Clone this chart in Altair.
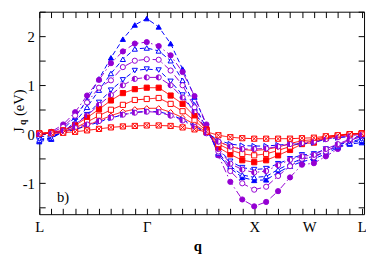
import altair as alt
import pandas as pd

# ---------------- data ----------------
q_index = list(range(28))
sym_positions = [0, 9, 18, 22.6, 27]
sym_labels = ["L", "Γ", "X", "W", "L"]
y_ticks = [-1.5, -1.0, -0.5, 0.0, 0.5, 1.0, 1.5, 2.0, 2.5]

series_names = ["A", "B", "C", "D", "E", "F", "G", "H", "I", "J", "K", "L"]

A_vals = [-0.15, -0.10, 0.10, 0.35, 0.70, 1.13, 1.56, 1.94, 2.23, 2.36, 2.19, 1.85, 1.33, 0.76, 0.18,
          -0.42, -0.69, -0.88, -0.94, -0.93, -0.78, -0.65, -0.56, -0.50, -0.40, -0.27, -0.20, -0.17]
B_vals = [0.00, 0.05, 0.20, 0.45, 0.79, 1.11, 1.45, 1.69, 1.85, 1.88, 1.80, 1.61, 1.27, 0.78, 0.20,
          -0.43, -0.97, -1.33, -1.47, -1.38, -1.16, -0.88, -0.62, -0.59, -0.45, -0.30, -0.15, 0.00]
C_vals = [-0.12, -0.08, 0.05, 0.25, 0.55, 0.90, 1.24, 1.53, 1.74, 1.76, 1.70, 1.50, 1.10, 0.60, 0.12,
          -0.38, -0.65, -0.83, -0.88, -0.86, -0.72, -0.60, -0.50, -0.45, -0.35, -0.25, -0.18, -0.12]
D_vals = [0.00, 0.03, 0.15, 0.38, 0.65, 0.95, 1.10, 1.37, 1.50, 1.53, 1.52, 1.30, 1.00, 0.55, 0.12,
          -0.35, -0.75, -1.00, -1.13, -1.07, -0.85, -0.65, -0.50, -0.47, -0.35, -0.22, -0.12, -0.05]
E_vals = [-0.10, -0.07, 0.05, 0.20, 0.40, 0.65, 0.90, 1.11, 1.30, 1.33, 1.31, 1.08, 0.80, 0.45, 0.08,
          -0.30, -0.55, -0.68, -0.72, -0.70, -0.60, -0.50, -0.42, -0.40, -0.30, -0.22, -0.15, -0.10]
F_vals = [0.00, 0.02, 0.08, 0.20, 0.38, 0.60, 0.80, 1.00, 1.13, 1.16, 1.16, 1.00, 0.75, 0.45, 0.10,
          -0.30, -0.60, -0.72, -0.78, -0.75, -0.63, -0.52, -0.45, -0.42, -0.30, -0.20, -0.10, -0.03]
G_vals = [0.02, 0.04, 0.08, 0.18, 0.34, 0.51, 0.69, 0.84, 0.92, 0.95, 0.95, 0.79, 0.62, 0.37, 0.10,
          -0.27, -0.41, -0.53, -0.57, -0.53, -0.43, -0.32, -0.20, -0.17, -0.08, -0.04, 0.00, 0.02]
H_vals = [0.02, 0.03, 0.06, 0.13, 0.25, 0.38, 0.50, 0.60, 0.70, 0.72, 0.74, 0.62, 0.47, 0.28, 0.07,
          -0.20, -0.32, -0.40, -0.43, -0.40, -0.33, -0.25, -0.17, -0.14, -0.07, -0.03, 0.00, 0.02]
I_vals = [0.01, 0.02, 0.05, 0.10, 0.18, 0.28, 0.38, 0.46, 0.51, 0.53, 0.53, 0.45, 0.34, 0.20, 0.05,
          -0.15, -0.25, -0.31, -0.33, -0.31, -0.26, -0.19, -0.13, -0.11, -0.05, -0.02, 0.01, 0.02]
J_vals = [-0.05, -0.03, 0.03, 0.10, 0.17, 0.25, 0.33, 0.40, 0.45, 0.47, 0.46, 0.40, 0.30, 0.17, 0.03,
          -0.12, -0.20, -0.23, -0.24, -0.24, -0.22, -0.20, -0.20, -0.17, -0.10, -0.07, -0.05, -0.05]
K_vals = [0.00, 0.02, 0.06, 0.13, 0.20, 0.27, 0.34, 0.40, 0.44, 0.46, 0.45, 0.38, 0.28, 0.15, 0.02,
          -0.15, -0.25, -0.30, -0.30, -0.29, -0.25, -0.20, -0.18, -0.15, -0.10, -0.06, -0.03, 0.00]
L_vals = [0.01, 0.02, 0.03, 0.05, 0.08, 0.11, 0.14, 0.16, 0.17, 0.18, 0.18, 0.17, 0.14, 0.10, 0.05,
          -0.02, -0.06, -0.08, -0.09, -0.09, -0.09, -0.09, -0.08, -0.07, -0.04, -0.02, 0.00, 0.01]

all_vals = [A_vals, B_vals, C_vals, D_vals, E_vals, F_vals, G_vals, H_vals, I_vals, J_vals, K_vals, L_vals]

# ---------------- styles ----------------
BLUE = "#0000ff"
PURPLE = "#9400d3"
RED = "#ff0000"
WHITE = "#ffffff"
BOX_X = "M-1,-1L1,-1L1,1L-1,1Z M-1,-1L1,1 M-1,1L1,-1"
HALF = "M0,-1A1,1 0 0,0 0,1Z"

line_colors = [BLUE, PURPLE, BLUE, PURPLE, BLUE, PURPLE, RED, RED, RED, BLUE, PURPLE, RED]
dash_blue = [5, 3]
dash_purple = [7, 3, 1.5, 3]
solid = [1, 0]
dashes = [dash_blue, dash_purple, dash_blue, dash_purple, dash_blue, dash_purple,
          solid, solid, solid, dash_blue, dash_purple, solid]
shapes = ["triangle-up", "circle", "triangle-up", "circle", "triangle-down", "circle",
          "square", "square", "diamond", "triangle-right", "circle", BOX_X]
fills = [BLUE, PURPLE, WHITE, WHITE, WHITE, WHITE, RED, WHITE, WHITE, WHITE, WHITE, WHITE]

rows = []
for name, vals in zip(series_names, all_vals):
    for i, v in zip(q_index, vals):
        rows.append({"s": name, "i": i, "v": v})
df = pd.DataFrame(rows)

xscale = alt.Scale(domain=[0, 27.2], nice=False, zero=False)
yscale = alt.Scale(domain=[-1.63, 2.5], nice=False, zero=False)

FONT = "Liberation Serif"

axis_bottom_ticks = alt.Axis(orient="bottom", values=q_index, tickSize=6, offset=-6, labels=False,
                             domain=False, grid=False, title=None, tickColor="black", tickWidth=1)
axis_top_ticks = alt.Axis(orient="top", values=q_index, tickSize=6, offset=-6, labels=False,
                          domain=False, grid=False, title=None, tickColor="black", tickWidth=1)
axis_left = alt.Axis(orient="left", values=y_ticks, tickSize=6, offset=-6, domain=False, grid=False,
                     title=None, tickColor="black", tickWidth=1, labelFont=FONT, labelFontSize=15,
                     labelColor="black", labelPadding=5, labelOverlap=False,
                     labelExpr="datum.value % 1 == 0 ? '' + datum.value : ''")
axis_right = alt.Axis(orient="right", values=y_ticks, tickSize=6, offset=-6, labels=False,
                      domain=False, grid=False, title=None, tickColor="black", tickWidth=1)
axis_labels = alt.Axis(orient="bottom", values=sym_positions, ticks=False, domain=False, grid=False,
                       title=None, labelFont=FONT, labelFontSize=15, labelColor="black",
                       labelPadding=6, labelFlush=False, labelOverlap=False, labelBound=False,
                       labelExpr="datum.value < 1 ? 'L' : datum.value < 10 ? 'Γ' : datum.value < 19 ? 'X' : datum.value < 25 ? 'W' : 'L'")

lines = alt.Chart(df).mark_line(strokeWidth=1).encode(
    x=alt.X("i:Q", scale=xscale, axis=axis_bottom_ticks),
    y=alt.Y("v:Q", scale=yscale, axis=axis_left),
    detail="s:N",
    color=alt.Color("s:N", scale=alt.Scale(domain=series_names, range=line_colors), legend=None),
    strokeDash=alt.StrokeDash("s:N", scale=alt.Scale(domain=series_names, range=dashes), legend=None),
)

points = alt.Chart(df).mark_point(filled=True, size=28, strokeWidth=1, opacity=1).encode(
    x=alt.X("i:Q", scale=xscale, axis=axis_top_ticks),
    y=alt.Y("v:Q", scale=yscale, axis=axis_right),
    shape=alt.Shape("s:N", scale=alt.Scale(domain=series_names, range=shapes), legend=None),
    fill=alt.Fill("s:N", scale=alt.Scale(domain=series_names, range=fills), legend=None),
    stroke=alt.Stroke("s:N", scale=alt.Scale(domain=series_names, range=line_colors), legend=None),
)

halves = alt.Chart(df).transform_filter(
    alt.FieldOneOfPredicate(field="s", oneOf=["F", "K"])
).mark_point(filled=True, size=28, shape=HALF, color=PURPLE, opacity=1, strokeWidth=0).encode(
    x=alt.X("i:Q", scale=xscale, axis=axis_labels),
    y=alt.Y("v:Q", scale=yscale, axis=None),
)

def label(txt, x, y, size=15, weight="normal", angle=0, align="center", baseline="middle"):
    return alt.Chart(pd.DataFrame({"t": [txt]})).mark_text(
        font=FONT, fontSize=size, fontWeight=weight, angle=angle, align=align,
        baseline=baseline, color="black"
    ).encode(text="t:N", x=alt.value(x), y=alt.value(y))

txt_b = label("b)", 18, 190, align="left")
txt_J = label("J", -21, 121, angle=270)
txt_q = label("q", -17, 113, size=10, weight="bold", angle=270)
txt_eV = label("(eV)", -21, 93, angle=270)
txt_xq = label("q", 162, 240, weight="bold")

chart = alt.layer(lines, points, halves, txt_b, txt_J, txt_q, txt_eV, txt_xq).resolve_axis(
    x="independent", y="independent"
).properties(
    width=332, height=207,
    autosize=alt.AutoSizeParams(type="none"),
    padding={"left": 32, "top": 1, "right": 2, "bottom": 42},
).configure_view(stroke="black", strokeWidth=1)

chart.save("out.html", embed_options={"renderer": "svg", "actions": False})
